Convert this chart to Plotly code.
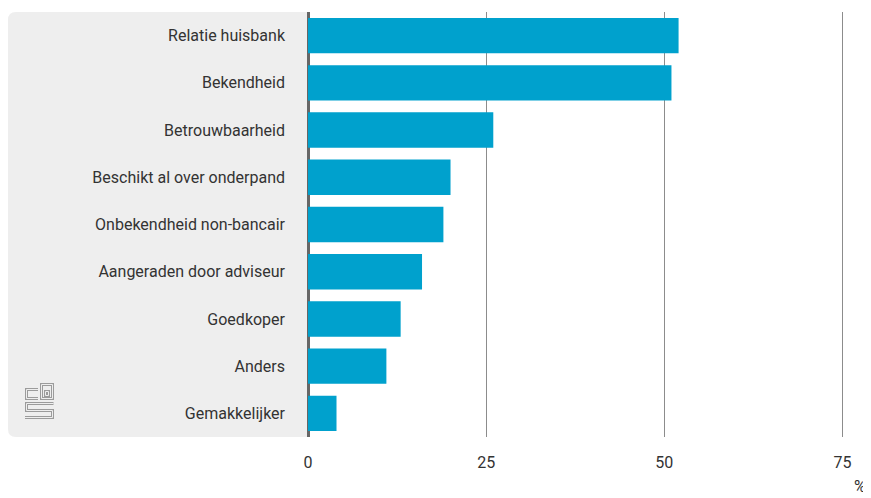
import plotly.graph_objects as go

categories = ["Relatie huisbank", "Bekendheid", "Betrouwbaarheid", "Beschikt al over onderpand",
              "Onbekendheid non-bancair", "Aangeraden door adviseur", "Goedkoper", "Anders", "Gemakkelijker"]
values = [52, 51, 26, 20, 19, 16, 13, 11, 4]
tick_vals = [0, 25, 50, 75]
tick_text = ["0", "25", "50", "75"]

OFF = 8  # page body margin
W, H = 863, 490
L, R, T, B = 300, 0, 4, 61
PW, PH = W - L - R, H - T - B

def px(x):  # screen x -> paper
    return (x - OFF - L) / PW

def py(y):  # screen y -> paper
    return (H - B - (y - OFF)) / PH

fig = go.Figure(go.Bar(
    y=categories, x=values, orientation="h",
    marker=dict(color="#00a1cd", line=dict(width=0)),
    width=0.75, hoverinfo="skip",
))

shapes = []
# grey panel with rounded left corners
r = 8
x0, x1, y0, y1 = 8, 308, 12, 437
path = (f"M {px(x1)},{py(y1)} L {px(x0 + r)},{py(y1)} Q {px(x0)},{py(y1)} {px(x0)},{py(y1 - r)} "
        f"L {px(x0)},{py(y0 + r)} Q {px(x0)},{py(y0)} {px(x0 + r)},{py(y0)} L {px(x1)},{py(y0)} Z")
shapes.append(dict(type="path", path=path, xref="paper", yref="paper",
                   fillcolor="#eeeeee", line=dict(width=0), layer="below"))

def poly(points, closed=False):
    s = "M " + " L ".join(f"{px(a)},{py(b)}" for a, b in points)
    return s + (" Z" if closed else "")

logo_paths = [
    poly([(38, 389.5), (26.5, 389.5), (26.5, 398.5), (38, 398.5)]),            # c
    poly([(41.5, 384.5), (52.5, 384.5), (52.5, 398.5), (41.5, 398.5)], True),  # b
    poly([(45.5, 391.5), (48.5, 391.5), (48.5, 395.5), (45.5, 395.5)], True),  # b inner
    poly([(53.5, 403.5), (26.5, 403.5), (26.5, 410.5), (52.5, 410.5), (52.5, 417.5), (25, 417.5)]),  # S
]
for p in logo_paths:
    shapes.append(dict(type="path", path=p, xref="paper", yref="paper",
                       line=dict(color="#9b9b9b", width=3), layer="above"))
for p in logo_paths:
    shapes.append(dict(type="path", path=p, xref="paper", yref="paper",
                       line=dict(color="#eeeeee", width=1), layer="above"))

fig.update_layout(
    width=W, height=H,
    margin=dict(l=L, r=R, t=T, b=B, autoexpand=False),
    paper_bgcolor="white", plot_bgcolor="rgba(0,0,0,0)",
    font=dict(family="Roboto", size=16, color="#333333"),
    showlegend=False,
    bargap=0.25,
    shapes=shapes,
    xaxis=dict(range=[0, 79], tickvals=tick_vals, ticktext=tick_text,
               showgrid=True, gridcolor="#8c8c8c", gridwidth=1,
               zeroline=True, zerolinecolor="#666666", zerolinewidth=3,
               showline=False, ticks="", ticklabelstandoff=14, automargin=False,
               tickfont=dict(size=16, color="#333333"), fixedrange=True),
    yaxis=dict(categoryorder="array", categoryarray=categories[::-1],
               showgrid=False, zeroline=False, showline=False, ticks="", automargin=False,
               ticklabelstandoff=22, tickfont=dict(size=16, color="#333333"), fixedrange=True),
    annotations=[dict(text="%", x=px(860), y=py(486), xref="paper", yref="paper",
                      xanchor="center", yanchor="middle", showarrow=False,
                      font=dict(size=16, color="#333333"))],
)

fig.write_html("out.html")
